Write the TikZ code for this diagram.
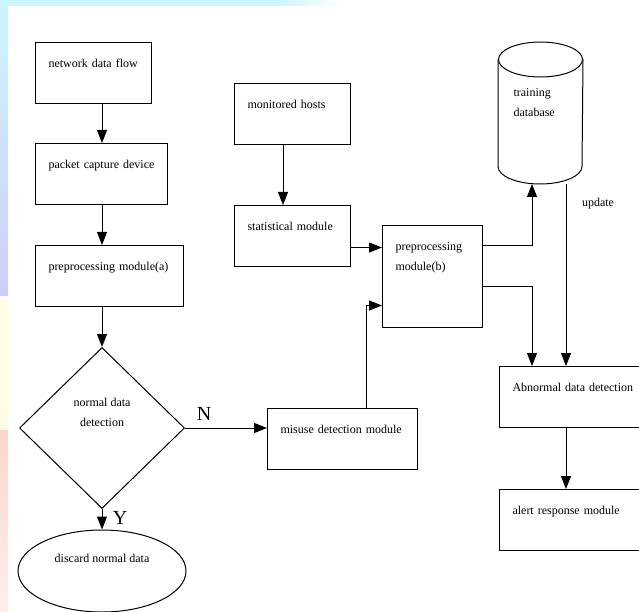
\documentclass[tikz,border=0pt]{standalone}
\usepackage{fontspec}
\setmainfont{Liberation Serif}
\usetikzlibrary{shapes.geometric,arrows.meta}
\definecolor{bgcyan}{RGB}{204,246,252}
\definecolor{bglav}{RGB}{206,206,248}
\definecolor{bgyel}{RGB}{255,252,226}
\definecolor{bgpink}{RGB}{252,214,204}
\tikzset{
    module/.style={draw, rectangle, anchor=north west, align=left, inner xsep=13pt, inner ysep=0pt, text height=25pt, text depth=36pt},
    flowline/.style={draw, -{Triangle[length=13pt,width=10pt]}},
    branch/.style={font=\fontsize{20}{24}\selectfont}
}

\begin{document}
\begin{tikzpicture}[x=1pt, y=-1pt, line width=1pt, font=\fontsize{12}{20}\selectfont]
    \useasboundingbox (0,0) rectangle (639,612);
    \fill[bgcyan] (0,0) rectangle (280,6);
    \shade[left color=bgcyan, right color=white] (280,0) rectangle (340,6);
    \shade[top color=bgcyan, bottom color=bglav] (0,0) rectangle (8,295);
    \fill[bgyel] (0,300) rectangle (8,430);
    \shade[top color=bgpink, bottom color=bgpink!40] (0,430) rectangle (8,612);

    \node[module, text width=90pt] (flow) at (35,42) {network data flow};
    \node[module, text width=106pt] (capture) at (35,143) {packet capture device};
    \node[module, text width=122pt] (prepa) at (35,245) {preprocessing module(a)};
    \node[draw, diamond, minimum width=165pt, minimum height=161pt, inner sep=0pt, align=center, text height=30pt, text depth=34pt] (check) at (102,428) {normal data\\detection};
    \node[draw, ellipse, minimum width=168pt, minimum height=82pt, inner sep=0pt, text height=8pt, text depth=26pt] (discard) at (102,571) {discard normal data};
    \node[module, text width=90pt] (hosts) at (234,83) {monitored hosts};
    \node[module, text width=90pt] (stat) at (234,205) {statistical module};
    \node[module, text width=124pt] (misuse) at (267,408) {misuse detection module};
    \node[module, text width=74pt, text depth=77pt] (prepb) at (382,225) {preprocessing\\module(b)};
    \node[anchor=north west, align=left, inner xsep=15pt, inner ysep=0pt, text width=54pt, text height=54pt, text depth=87pt] (db) at (498,42) {training\\database};
    \node[module, text width=124pt] (abn) at (499,366) {Abnormal data detection};
    \node[module, text width=124pt] (alert) at (499,489) {alert response module};

    \draw ([yshift=-17.5pt]db.north) ellipse [x radius=42pt, y radius=17.5pt];
    \draw ([yshift=-17.5pt]db.north west) -- ([yshift=17.5pt]db.south west) arc[start angle=180, end angle=360, x radius=42pt, y radius=17.5pt] -- ([yshift=-17.5pt]db.north east);

    \coordinate (colA) at (102,0);
    \coordinate (colB) at (283,0);
    \coordinate (colM) at (366,0);
    \coordinate (colL) at (532,0);
    \coordinate (colR) at (566,0);
    \coordinate (inB1) at ([yshift=29pt]prepb.west);
    \coordinate (inB2) at ([yshift=-29pt]prepb.west);
    \coordinate (outB1) at ([yshift=31pt]prepb.east);
    \coordinate (outB2) at ([yshift=-10pt]prepb.east);

    \draw[flowline] (flow.south -| colA) -- (capture.north -| colA);
    \draw[flowline] (capture.south -| colA) -- (prepa.north -| colA);
    \draw[flowline] (prepa.south -| colA) -- (check.north);
    \draw[flowline] (check.south) -- (discard.north);
    \draw[flowline] (check.east) -- (check.east -| misuse.west);
    \node[branch] (yes) at (120,518) {Y};
    \node[branch] (no) at (204,414) {N};

    \draw[flowline] (hosts.south -| colB) -- (stat.north -| colB);
    \draw[flowline] (stat.east |- inB1) -- (inB1);
    \draw[flowline] (misuse.north -| colM) |- (inB2);
    \draw[flowline] (outB1) -| (db.south -| colL);
    \draw[flowline] (outB2) -| (abn.north -| colL);
    \draw[flowline] (db.south -| colR) -- (abn.north -| colR);
    \node (update) at (598,204) {update};
    \draw[flowline] (abn.south -| colR) -- (alert.north -| colR);
\end{tikzpicture}
\end{document}
